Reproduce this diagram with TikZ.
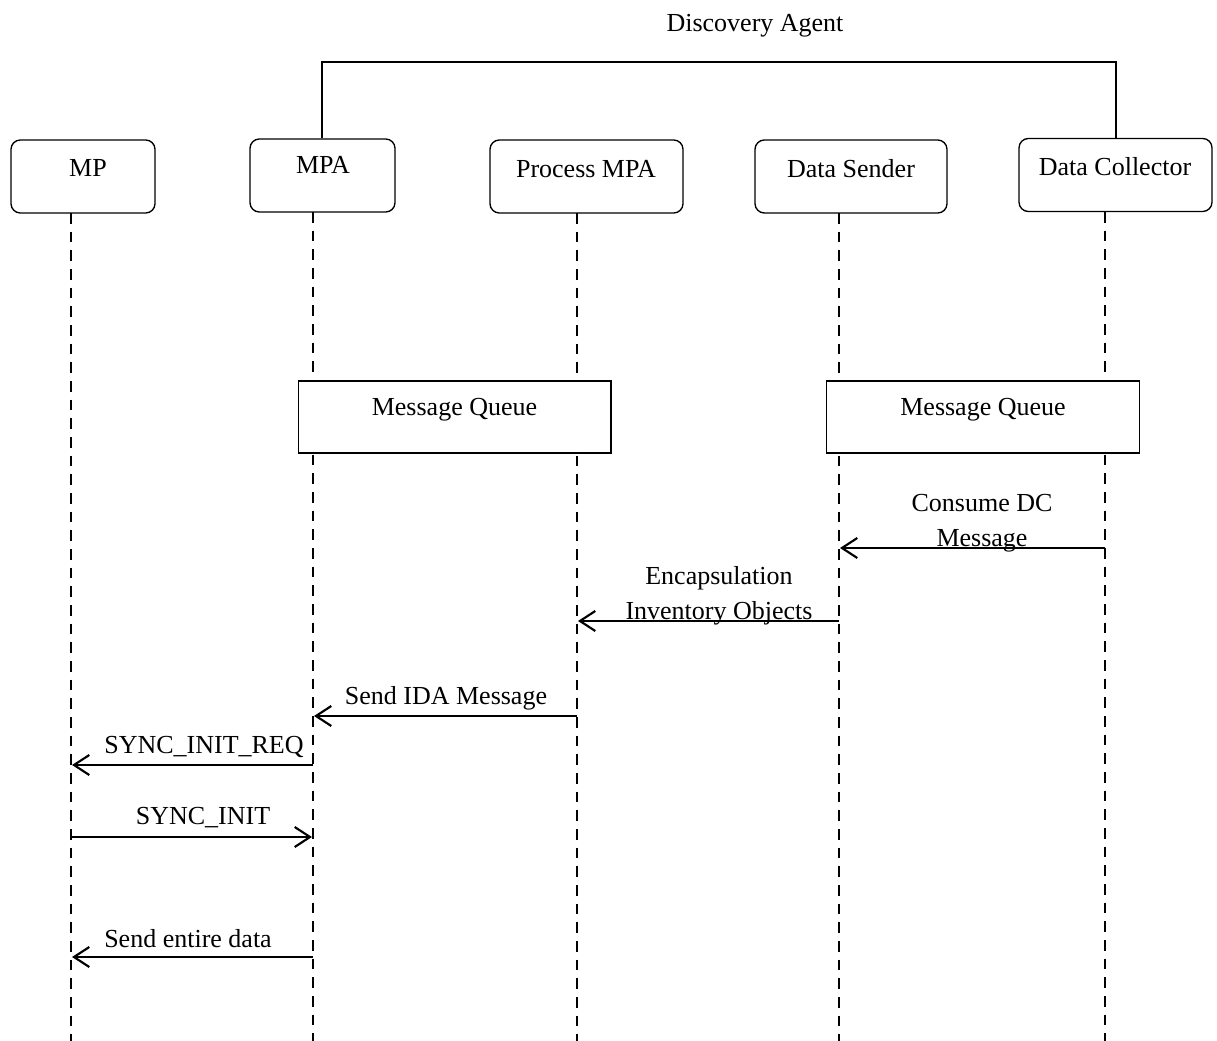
\documentclass[tikz,border=0pt]{standalone}
\usepackage{fontspec}
\setmainfont{Liberation Serif}
\usetikzlibrary{arrows.meta}
\begin{document}
\begin{tikzpicture}[x=0.75pt,y=-0.75pt,
  every node/.style={font=\fontsize{19.5}{26}\selectfont, inner sep=0pt},
  actorbox/.style={draw, rounded corners=7pt, line width=1pt, minimum height=54.75pt},
  queuebox/.style={draw, fill=white, line width=1pt, minimum width=234.5pt, minimum height=54pt},
  life/.style={line width=1.5pt, dash pattern=on 8pt off 6pt},
  msg/.style={line width=1.6pt, -{Straight Barb[length=11.5pt,width=15pt,line width=1.6pt]}},
  bracket/.style={line width=1.5pt},
  lbl/.style={align=center}]
\useasboundingbox (0,0) rectangle (1217,1041);

% actor boxes
\node[actorbox, minimum width=108pt]    (mp)  at (83,176.5)   {};
\node[actorbox, minimum width=108.75pt] (mpa) at (322.5,175.5) {};
\node[actorbox, minimum width=144.75pt] (pmpa) at (586.5,176.5) {};
\node[actorbox, minimum width=144pt]    (ds)  at (851,176.5)  {};
\node[actorbox, minimum width=144.75pt] (dc)  at (1115.5,175) {};
\node (mpT)   at (88,168)   {MP};
\node (mpaT)  at (323,165)  {MPA};
\node (pmpaT) at (586,169)  {Process MPA};
\node (dsT)   at (851,169)  {Data Sender};
\node (dcT)   at (1115,167) {Data Collector};

% Discovery agent bracket
\node (da) at (755,26) {Discovery Agent};
\coordinate (brL) at (322,62);
\coordinate (brR) at (1116,62);
\draw[bracket] (mpa.north -| brL) -- (brL) -- (brR) -- (dc.north -| brR);

% lifelines
\coordinate (l1t) at (71,213);   \coordinate (l1b) at (71,1041);
\coordinate (l2t) at (313,212);  \coordinate (l2b) at (313,1041);
\coordinate (l3t) at (577,213);  \coordinate (l3b) at (577,1041);
\coordinate (l4t) at (839,213);  \coordinate (l4b) at (839,1041);
\coordinate (l5t) at (1105,212); \coordinate (l5b) at (1105,1041);
\foreach \i in {1,...,5} \draw[life] (l\i t) -- (l\i b);

% message queues
\node[queuebox] (mq1) at (454.5,417) {};
\node[queuebox] (mq2) at (983,417) {};
\node (mq1T) at (454.5,410) {Message Queue};
\node (mq2T) at (983,410) {Message Queue};

% messages
\coordinate (m1s) at (1105,548); \coordinate (m1e) at (840,548);
\draw[msg] (m1s) -- (m1e);
\node[lbl] (m1T) at (982,523) {Consume DC\\Message};

\coordinate (m2s) at (839,621); \coordinate (m2e) at (578,621);
\draw[msg] (m2s) -- (m2e);
\node[lbl] (m2T) at (719,595.5) {Encapsulation\\Inventory Objects};

\coordinate (m3s) at (577,716); \coordinate (m3e) at (314,716);
\draw[msg] (m3s) -- (m3e);
\node (m3T) at (446,698) {Send IDA Message};

\coordinate (m4s) at (313,765); \coordinate (m4e) at (72,765);
\draw[msg] (m4s) -- (m4e);
\node (m4T) at (204,747) {SYNC\_INIT\_REQ};

\coordinate (m5s) at (71,837); \coordinate (m5e) at (312,837);
\draw[msg] (m5s) -- (m5e);
\node (m5T) at (203,818) {SYNC\_INIT};

\coordinate (m6s) at (313,957); \coordinate (m6e) at (72,957);
\draw[msg] (m6s) -- (m6e);
\node (m6T) at (188,939) {Send entire data};
\end{tikzpicture}
\end{document}
